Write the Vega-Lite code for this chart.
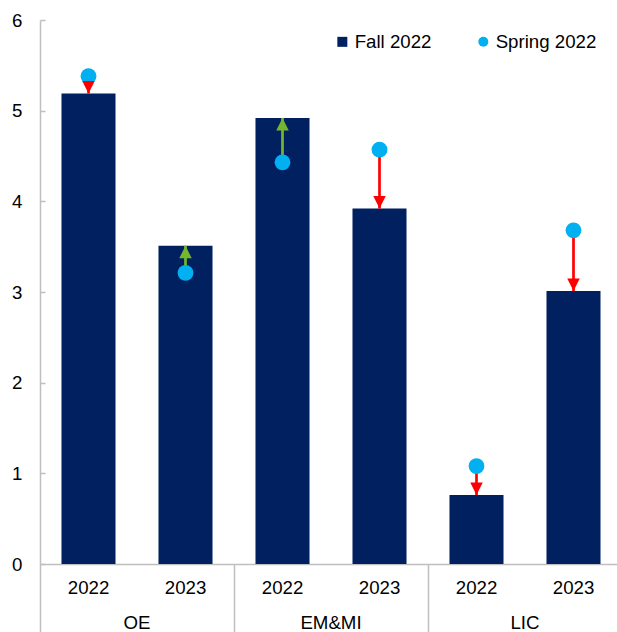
{
  "$schema": "https://vega.github.io/schema/vega-lite/v6.json",
  "width": 582,
  "height": 544,
  "autosize": {"type": "none"},
  "padding": {"left": 40, "top": 20, "right": -5, "bottom": 68},
  "background": "white",
  "config": {"view": {"stroke": null}, "font": "Liberation Sans"},
  "data": {"values": [
    {"group": "OE", "year": "2022", "cat": "OE|2022", "Fall 2022": 5.19, "Spring 2022": 5.38},
    {"group": "OE", "year": "2023", "cat": "OE|2023", "Fall 2022": 3.51, "Spring 2022": 3.21},
    {"group": "EM&MI", "year": "2022", "cat": "EM&MI|2022", "Fall 2022": 4.92, "Spring 2022": 4.43},
    {"group": "EM&MI", "year": "2023", "cat": "EM&MI|2023", "Fall 2022": 3.92, "Spring 2022": 4.57},
    {"group": "LIC", "year": "2022", "cat": "LIC|2022", "Fall 2022": 0.76, "Spring 2022": 1.08},
    {"group": "LIC", "year": "2023", "cat": "LIC|2023", "Fall 2022": 3.01, "Spring 2022": 3.68}
  ]},
  "resolve": {"scale": {"x": "independent"}, "axis": {"x": "independent"}},
  "layer": [
    {
      "transform": [{"fold": ["Fall 2022"], "as": ["series", "value"]}],
      "mark": {"type": "bar", "width": {"band": 0.557}},
      "encoding": {
        "x": {
          "field": "cat", "type": "nominal", "sort": null,
          "scale": {"paddingInner": 0, "paddingOuter": 0},
          "axis": {
            "orient": "bottom", "title": null, "labelAngle": 0,
            "labelExpr": "split(datum.label, '|')[1]",
            "ticks": false, "tickSize": 0, "labelPadding": 14,
            "labelFontSize": 18.67, "labelColor": "#000000",
            "domainColor": "#BFBFBF", "domainWidth": 1.5
          }
        },
        "y": {
          "field": "value", "type": "quantitative", "title": null,
          "scale": {"domain": [0, 6]},
          "axis": {
            "values": [0, 1, 2, 3, 4, 5, 6], "format": "d", "grid": false,
            "domainColor": "#BFBFBF", "domainWidth": 1.5,
            "tickColor": "#BFBFBF", "tickWidth": 1.5, "tickSize": -5,
            "labelPadding": 23, "labelFontSize": 18.67, "labelColor": "#000000"
          }
        },
        "color": {
          "field": "series", "type": "nominal", "title": null,
          "scale": {"domain": ["Fall 2022", "Spring 2022"], "range": ["#002060", "#00B0F0"]},
          "legend": {
            "orient": "none", "legendX": 293, "legendY": 12,
            "direction": "horizontal", "title": null, "padding": 0,
            "labelFontSize": 18.67, "labelColor": "#000000",
            "symbolSize": 100, "labelOffset": 3, "columnPadding": 42,
            "symbolStrokeWidth": 0
          }
        }
      }
    },
    {
      "layer": [
        {
          "mark": {"type": "rule", "strokeWidth": 2.7},
          "encoding": {
            "x": {
              "field": "group", "type": "nominal", "sort": ["OE", "EM&MI", "LIC"],
              "scale": {"paddingInner": 0, "paddingOuter": 0},
              "axis": {
                "orient": "bottom", "title": null, "labelAngle": 0,
                "domain": false, "ticks": true, "tickSize": 68,
                "tickColor": "#BFBFBF", "tickWidth": 1.5, "bandPosition": 0,
                "labelPadding": -19,
                "labelFontSize": 18.67, "labelColor": "#000000"
              }
            },
            "xOffset": {"field": "year", "type": "nominal", "scale": {"paddingInner": 0, "paddingOuter": 0}},
            "y": {"field": "Spring 2022", "type": "quantitative", "title": null},
            "y2": {"field": "Fall 2022"},
            "color": {
              "condition": {"test": "datum['Fall 2022'] < datum['Spring 2022']", "value": "#FF0000"},
              "value": "#74B72E"
            }
          }
        },
        {
          "transform": [{"fold": ["Spring 2022"], "as": ["series", "value"]}],
          "mark": {"type": "point", "filled": true, "opacity": 1, "size": 250, "strokeWidth": 0},
          "encoding": {
            "x": {"field": "group", "type": "nominal", "sort": ["OE", "EM&MI", "LIC"]},
            "xOffset": {"field": "year", "type": "nominal"},
            "y": {"field": "value", "type": "quantitative", "title": null},
            "color": {"field": "series", "type": "nominal", "title": null},
            "shape": {
              "field": "series", "type": "nominal", "title": null,
              "scale": {"domain": ["Fall 2022", "Spring 2022"], "range": ["square", "circle"]}
            }
          }
        },
        {
          "mark": {"type": "point", "filled": true, "opacity": 1, "size": 156, "strokeWidth": 0},
          "encoding": {
            "x": {"field": "group", "type": "nominal", "sort": ["OE", "EM&MI", "LIC"]},
            "xOffset": {"field": "year", "type": "nominal"},
            "y": {"field": "Fall 2022", "type": "quantitative", "title": null},
            "shape": {
              "condition": {"test": "datum['Fall 2022'] < datum['Spring 2022']", "value": "M-1,-2L1,-2L0,0Z"},
              "value": "M-1,2L1,2L0,0Z"
            },
            "color": {
              "condition": {"test": "datum['Fall 2022'] < datum['Spring 2022']", "value": "#FF0000"},
              "value": "#74B72E"
            }
          }
        }
      ]
    }
  ]
}
